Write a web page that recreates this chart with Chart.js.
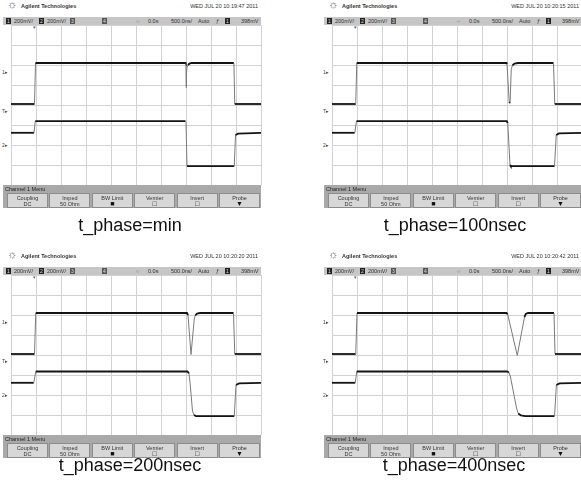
<!DOCTYPE html>
<html lang="en">
<head>
<meta charset="UTF-8">
<title>t_phase scope captures</title>
<style>
  body { margin: 0; width: 581px; height: 488px; overflow: hidden; background: #fff; position: relative;
         font-family: 'Liberation Sans', Arial, sans-serif; }
  .scope { position: absolute; width: 262px; height: 210px; }
  .scope div, .scope canvas { position: absolute; }
  .tiny { font-family: 'Liberation Sans Narrow', 'Liberation Sans', sans-serif; font-size: 5.5px; color: #333; white-space: nowrap; line-height: 6px; }
  .logo { left: 7px; top: -2px; font-size: 11px; color: #666; }
  .brand { left: 21px; top: 3px; font-weight: bold; }
  .date { left: 140px; width: 118px; top: 3px; text-align: right; }
  .status { left: 3px; top: 17px; width: 258px; height: 8px; background: #c6c6c6; }
  .box { width: 5px; height: 6px; background: #222; color: #ddd; font-size: 5px; line-height: 6px; text-align: center; }
  .mark { left: 2px; font-size: 5px; color: #444; }
  .menu { left: 3px; top: 185px; width: 258px; height: 23px; background: #a9a9a9; }
  .menu .title { left: 2px; top: 1px; color: #222; }
  .btn { top: 8px; width: 39px; height: 13px; background: #d7d7d7; border: 1px solid #8c8c8c; text-align: center; }
  .scope .btn div { position: static; }
  .scope .btn .sym { font-size: 7px; line-height: 6px; color: #111; }
  .caption { position: absolute; font-size: 18px; color: #111; white-space: nowrap; text-align: center; width: 260px; }
</style>
<script src="https://cdn.jsdelivr.net/npm/chart.js"></script>
</head>
<body>
<script>
// time in ns around the trigger (500 ns/div), level in mV from screen centre (200 mV/div)
const captions = ['t_phase=min', 't_phase=100nsec', 't_phase=200nsec', 't_phase=400nsec'];
const dates = ['WED JUL 20 10:19:47 2011', 'WED JUL 20 10:20:15 2011', 'WED JUL 20 10:20:20 2011', 'WED JUL 20 10:20:42 2011'];
const statusItems = ['200mV/', '200mV/', '0.0s', '500.0ns/', 'Auto', '398mV'];
const buttonTop = ['Coupling', 'Imped', 'BW Limit', 'Vernier', 'Invert', 'Probe'];
const buttonBottom = ['DC', '50 Ohm', '\u25A0', '\u25A1', '\u25A1', '\u25BC'];

const ch1Min = [[-2500, 10], [-2030, 10], [-2010, 420], [992, 420], [998, 415], [1004, 175], [1010, 320],
  [1020, 375], [1040, 400], [1070, 414], [1110, 420], [1958, 420], [1975, 10], [2500, 10]];
const ch2Min = [[-2500, -278], [-2040, -278], [-2015, -162], [990, -162], [1000, -175], [1020, -612],
  [1965, -612], [1990, -300], [2040, -286], [2500, -278]];

const ch1N100 = [[-2500, 10], [-2025, 10], [-2005, 420], [990, 420], [1000, 408], [1045, 20], [1062, 28],
  [1085, 355], [1110, 398], [1150, 414], [1220, 420], [1930, 420], [1955, 10], [2500, 10]];
const ch2N100 = [[-2500, -278], [-2045, -278], [-2010, -162], [995, -162], [1015, -180], [1060, -600],
  [1075, -612], [1950, -612], [1985, -300], [2040, -284], [2500, -278]];

const ch1N200 = [[-2500, 10], [-2030, 10], [-2005, 420], [1020, 420], [1040, 400], [1100, 5], [1165, 360],
  [1185, 395], [1220, 414], [1280, 420], [1950, 420], [1975, 10], [2500, 10]];
const ch2N200 = [[-2500, -278], [-2045, -278], [-2005, -165], [1030, -165], [1060, -185], [1085, -300],
  [1130, -560], [1160, -600], [1200, -612], [1965, -612], [2000, -300], [2060, -284], [2500, -278]];

const ch1N400 = [[-2500, 10], [-2025, 10], [-2000, 420], [990, 420], [1015, 405], [1205, -5], [1350, 380],
  [1375, 410], [1420, 420], [1940, 420], [1960, 10], [2500, 10]];
const ch2N400 = [[-2500, -278], [-2035, -278], [-2005, -165], [1000, -165], [1040, -175], [1070, -220],
  [1190, -530], [1225, -585], [1280, -605], [1360, -612], [1950, -612], [1988, -300], [2050, -284], [2500, -278]];

const traces = [[ch1Min, ch2Min], [ch1N100, ch2N100], [ch1N200, ch2N200], [ch1N400, ch2N400]];

const panelLeft = [0, 321, 0, 321];
const panelTop = [0, 0, 250, 250];
const captionLeft = [0, 325, 0, 324];
const captionTop = [215, 215, 455, 455];

function el(parent, cls, text, style) {
  const d = document.createElement('div');
  if (cls) d.className = cls;
  if (text != null) d.textContent = text;
  Object.assign(d.style, style || {});
  parent.appendChild(d);
  return d;
}

// steep edges look thin and grey on the scope screen
function steep(ctx) {
  const dt = Math.abs(ctx.p1.parsed.x - ctx.p0.parsed.x) || 1;
  return Math.abs(ctx.p1.parsed.y - ctx.p0.parsed.y) / dt > 1.2;
}

function traceSet(points) {
  return {
    data: points.map(p => ({ x: p[0], y: p[1] })),
    borderColor: '#141414',
    borderWidth: 1.8,
    pointRadius: 0,
    tension: 0,
    segment: {
      borderColor: ctx => steep(ctx) ? '#7a7a7a' : undefined,
      borderWidth: ctx => steep(ctx) ? 1 : undefined
    }
  };
}

captions.forEach((cap, i) => {
  const sc = el(document.body, 'scope', null, { left: panelLeft[i] + 'px', top: panelTop[i] + 'px' });
  el(sc, 'logo', '\u263C');
  el(sc, 'tiny brand', 'Agilent Technologies');
  el(sc, 'tiny date', dates[i]);

  const st = el(sc, 'status tiny');
  el(st, 'box', '1', { left: '3px', top: '1px' });
  el(st, 'tiny', statusItems[0], { left: '11px', top: '1px' });
  el(st, 'box', '2', { left: '36px', top: '1px' });
  el(st, 'tiny', statusItems[1], { left: '44px', top: '1px' });
  el(st, 'box', '3', { left: '67px', top: '1px', background: '#555' });
  el(st, 'box', '4', { left: '99px', top: '1px', background: '#555' });
  el(st, 'tiny', '\u263C', { left: '132px', top: '1px', color: '#666' });
  el(st, 'tiny', statusItems[2], { left: '145px', top: '1px' });
  el(st, 'tiny', statusItems[3], { left: '168px', top: '1px' });
  el(st, 'tiny', statusItems[4], { left: '195px', top: '1px' });
  el(st, 'tiny', '\u0192', { left: '213px', top: '1px' });
  el(st, 'box', '1', { left: '222px', top: '1px' });
  el(st, 'tiny', statusItems[5], { left: '238px', top: '1px' });

  el(sc, 'tiny mark', '1\u25B8', { top: '69px' });
  el(sc, 'tiny mark', 'T\u25B8', { top: '108px' });
  el(sc, 'tiny mark', '2\u25B8', { top: '142px' });
  el(sc, 'tiny', '\u25BE', { left: '33px', top: '24px', fontSize: '5px', color: '#666' });

  const cv = document.createElement('canvas');
  cv.width = 252; cv.height = 162;
  cv.style.left = '10px'; cv.style.top = '24px';
  sc.appendChild(cv);

  const menu = el(sc, 'menu tiny');
  el(menu, 'tiny title', 'Channel 1  Menu');
  buttonTop.forEach((t, b) => {
    const bt = el(menu, 'btn tiny', null, { left: (4 + b * 42.4) + 'px' });
    el(bt, null, t).style.paddingTop = '1px';
    el(bt, b > 1 ? 'sym' : null, buttonBottom[b]);
  });

  el(document.body, 'caption', cap, { left: captionLeft[i] + 'px', top: captionTop[i] + 'px' });

  new Chart(cv, {
    type: 'line',
    data: { datasets: traces[i].map(traceSet) },
    options: {
      responsive: false,
      animation: false,
      events: [],
      layout: { padding: 1 },
      plugins: { legend: { display: false }, tooltip: { enabled: false } },
      scales: {
        x: {
          type: 'linear', min: -2500, max: 2500,
          ticks: { display: false, stepSize: 500 },
          grid: { color: '#d2d2d2', lineWidth: 1, drawTicks: false },
          border: { display: false }
        },
        y: {
          min: -800, max: 800,
          ticks: { display: false, stepSize: 200 },
          grid: { color: '#d2d2d2', lineWidth: 1, drawTicks: false },
          border: { display: false }
        }
      }
    }
  });
});
</script>
</body>
</html>
